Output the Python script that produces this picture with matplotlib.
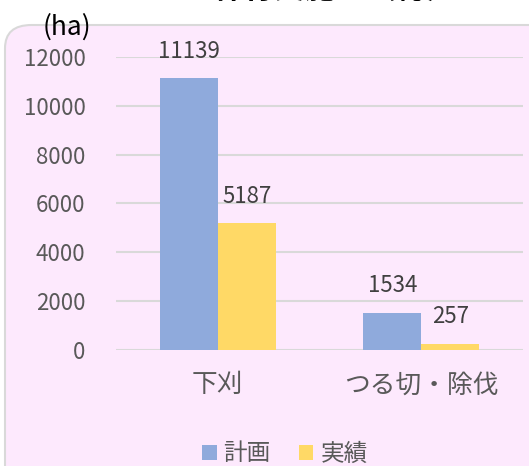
import matplotlib
matplotlib.use("Agg")
import matplotlib.pyplot as plt
from matplotlib.patches import FancyBboxPatch
import numpy as np

plt.rcParams['font.family'] = ['Noto Sans CJK JP', 'DejaVu Sans']

# --- data
categories = ['下刈', 'つる切・除伐']
plan = [11139, 1534]      # 計画
actual = [5187, 257]      # 実績
series_names = ['計画', '実績']
colors = ['#8FAADC', '#FFD966']
yticks = [0, 2000, 4000, 6000, 8000, 10000, 12000]

W, H = 529, 466
fig = plt.figure(figsize=(W / 100, H / 100), dpi=100)
fig.patch.set_facecolor('white')

# pink rounded frame (runs off the right / bottom edges)
bg = FancyBboxPatch((5 / W, -0.2), 1.2, 1 - 25 / H + 0.2,
                    boxstyle="round,pad=0,rounding_size=0.05",
                    transform=fig.transFigure, facecolor='#FDE9FD',
                    edgecolor='#D9D9D9', linewidth=1.5, zorder=0)
fig.patches.append(bg)

# title, mostly above the top edge (only its foot shows)
fig.text(335 / W, 1 + 2 / H, '保育実施量（総）', ha='center', va='baseline',
         fontsize=22, fontweight='bold', color='black')

ax = fig.add_axes([116 / W, 1 - 350 / H, (523 - 116) / W, (350 - 57) / H])
ax.set_facecolor('none')
ax.set_zorder(2)

x = np.arange(len(categories))
bw = 0.285
b1 = ax.bar(x - bw / 2, plan, bw, color=colors[0], label=series_names[0], zorder=3)
b2 = ax.bar(x + bw / 2, actual, bw, color=colors[1], label=series_names[1], zorder=3)

for bars in (b1, b2):
    for r in bars:
        ax.annotate(f'{int(r.get_height())}', (r.get_x() + r.get_width() / 2, r.get_height()),
                    xytext=(0, 11), textcoords='offset points', ha='center', va='bottom',
                    fontsize=16, color='#404040')

ax.set_xlim(-0.5, 1.5)
ax.set_ylim(0, 12000)
ax.set_yticks(yticks)
ax.set_yticklabels([str(v) for v in yticks], fontsize=16, color='#595959')
ax.set_xticks(x)
ax.set_xticklabels(categories, fontsize=18.5, color='#595959')
ax.tick_params(axis='both', length=0)
ax.tick_params(axis='y', pad=22)
ax.tick_params(axis='x', pad=16)
ax.grid(axis='y', color='#D9D9D9', linewidth=1.5, zorder=0)
for s in ax.spines.values():
    s.set_visible(False)

fig.text(67 / W, 1 - 27 / H, '(ha)', ha='center', va='center', fontsize=19,
         color='black', zorder=5)

leg = fig.legend(loc='center', bbox_to_anchor=(285 / W, 1 - 454 / H), ncol=2,
                 frameon=False, fontsize=17, handlelength=0.6, handleheight=0.6,
                 handletextpad=0.3, columnspacing=1.2, labelcolor='#595959')
leg.set_zorder(5)

fig.savefig('out.png', dpi=100)
